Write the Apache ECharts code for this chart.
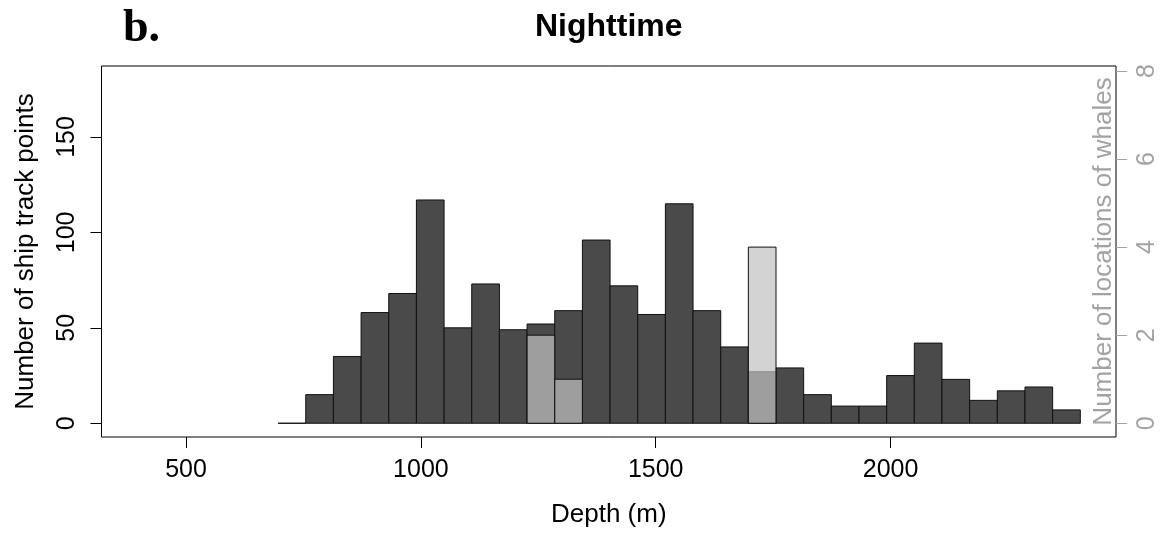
<!DOCTYPE html>
<html>
<head>
<meta charset="utf-8">
<script src="https://cdn.jsdelivr.net/npm/echarts@6/dist/echarts.min.js"></script>
<style>
  html, body { margin: 0; padding: 0; background: #ffffff; }
  #chart { width: 1162px; height: 533px; }
</style>
</head>
<body>
<div id="chart"></div>
<script>
// Depth bin edges (m), shared by both histograms
const binEdges = [696, 754.9, 813.8, 872.7, 931.6, 990.5, 1049.4, 1108.3, 1167.2, 1226.1,
  1285, 1343.9, 1402.8, 1461.7, 1520.6, 1579.5, 1638.4, 1697.2, 1756.1, 1815,
  1873.9, 1932.8, 1991.7, 2050.6, 2109.5, 2168.4, 2227.3, 2286.2, 2345.1, 2404];
// Ship track points per depth bin (left axis)
const shipCounts = [0, 15, 35, 58, 68, 117, 50, 73, 49, 52, 59, 96, 72, 57, 115,
  59, 40, 27, 29, 15, 9, 9, 25, 42, 23, 12, 17, 19, 7];
// Whale locations per depth bin (right axis)
const whaleCounts = [0, 0, 0, 0, 0, 0, 0, 0, 0, 2, 1, 0, 0, 0, 0,
  0, 0, 4, 0, 0, 0, 0, 0, 0, 0, 0, 0, 0, 0];
const depthTicks = [500, 1000, 1500, 2000];
const shipTicks = [0, 50, 100, 150];
const whaleTicks = [0, 2, 4, 6, 8];

const SANS = '"Liberation Sans", Arial, sans-serif';
const WHALE_GREY = '#a3a3a3';
const plain = v => String(v);

function histBar(fill) {
  return function (params, api) {
    const lo = api.coord([api.value(0), 0]);
    const hi = api.coord([api.value(1), api.value(2)]);
    return {
      type: 'rect',
      shape: { x: lo[0], y: hi[1], width: hi[0] - lo[0], height: lo[1] - hi[1] },
      style: { fill: fill, stroke: '#111111', lineWidth: 1 }
    };
  };
}

const shipData = shipCounts.map((c, i) => [binEdges[i], binEdges[i + 1], c]);
const whaleData = whaleCounts
  .map((c, i) => [binEdges[i], binEdges[i + 1], c])
  .filter(d => d[2] > 0);

const chart = echarts.init(document.getElementById('chart'), null, { renderer: 'canvas' });
chart.setOption({
  animation: false,
  backgroundColor: '#ffffff',
  grid: {
    left: 101.5, top: 66, width: 1014.5, height: 373.5,
    show: true, borderColor: '#000000', borderWidth: 1, backgroundColor: 'transparent'
  },
  graphic: [
    {
      type: 'text', x: 123, y: 6,
      style: {
        text: 'b.', fill: '#000000',
        font: 'bold 46px "Liberation Serif", "Times New Roman", serif',
        textAlign: 'left', textVerticalAlign: 'top'
      }
    },
    {
      type: 'text', x: 608.75, y: 11,
      style: {
        text: 'Nighttime', fill: '#000000',
        font: 'bold 32px ' + SANS,
        textAlign: 'center', textVerticalAlign: 'top'
      }
    }
  ],
  xAxis: {
    type: 'value', min: 320, max: 2480,
    name: 'Depth (m)', nameLocation: 'middle', nameGap: 65, nameMoveOverlap: false,
    nameTextStyle: { fontSize: 26, color: '#000000', fontFamily: SANS },
    axisLine: { show: false, onZero: false },
    axisTick: { show: true, length: 11, customValues: depthTicks, lineStyle: { color: '#000000', width: 1 } },
    axisLabel: { customValues: depthTicks, formatter: plain, fontSize: 25, color: '#000000', fontFamily: SANS, margin: 21 },
    splitLine: { show: false }
  },
  yAxis: [
    {
      type: 'value', position: 'left', min: -7.2, max: 187.2,
      name: 'Number of ship track points', nameLocation: 'middle', nameGap: 63, nameRotate: 90,
      nameMoveOverlap: false,
      nameTextStyle: { fontSize: 26, color: '#000000', fontFamily: SANS },
      axisLine: { show: false, onZero: false },
      axisTick: { show: true, length: 11, customValues: shipTicks, lineStyle: { color: '#000000', width: 1 } },
      axisLabel: { customValues: shipTicks, formatter: plain, rotate: 90, fontSize: 25, color: '#000000', fontFamily: SANS, margin: 22 },
      splitLine: { show: false }
    },
    {
      type: 'value', position: 'right', min: -0.312, max: 8.112,
      name: 'Number of locations of whales', nameLocation: 'middle', nameGap: -25, nameRotate: 90,
      nameMoveOverlap: false,
      nameTextStyle: { fontSize: 26, color: WHALE_GREY, fontFamily: SANS },
      axisLine: { show: false, onZero: false },
      axisTick: { show: true, length: 11, customValues: whaleTicks, lineStyle: { color: WHALE_GREY, width: 1 } },
      axisLabel: { customValues: whaleTicks, formatter: plain, rotate: 90, fontSize: 25, color: WHALE_GREY, fontFamily: SANS, margin: 19 },
      splitLine: { show: false }
    }
  ],
  series: [
    {
      name: 'Ship track points', type: 'custom', xAxisIndex: 0, yAxisIndex: 0,
      renderItem: histBar('#4a4a4a'), data: shipData, z: 2
    },
    {
      name: 'Whale locations', type: 'custom', xAxisIndex: 0, yAxisIndex: 1,
      renderItem: histBar('rgba(193,193,193,0.71)'), data: whaleData, z: 3
    }
  ]
});
</script>
</body>
</html>
